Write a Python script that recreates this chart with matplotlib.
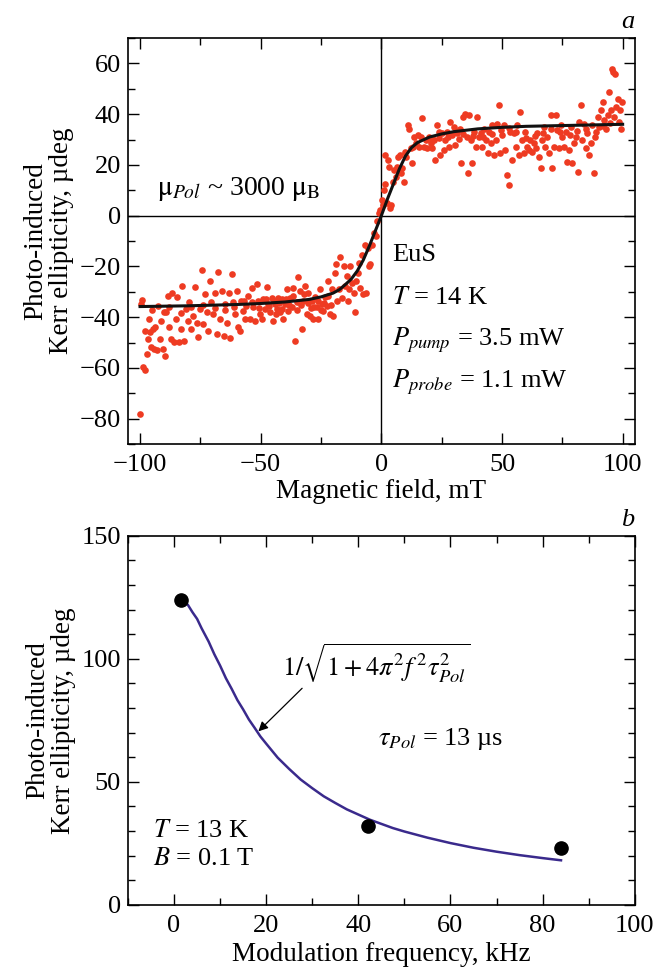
import numpy as np
import matplotlib
matplotlib.use("Agg")
import matplotlib.pyplot as plt
from matplotlib.ticker import MultipleLocator

plt.rcParams['font.family'] = ['Liberation Serif', 'DejaVu Serif']
plt.rcParams['mathtext.fontset'] = 'stix'
plt.rcParams['axes.unicode_minus'] = True

# ---- panel a: Kerr ellipticity vs magnetic field
field_pts = [
    -100, -99.8, -99, -98.8, -98, -98, -97, -96.5, -96.4, -95.7, -95.3, -94.8, -94.1, -93.6,
    -92.9, -92.5, -91.7, -91.3, -90.5, -90.1, -89.6, -89.3, -88.4, -87.9, -87.2, -86.7, -86.1,
    -85.3, -84.6, -83.9, -83.2, -82.5, -81.8, -81, -80.2, -79.7, -78.7, -78, -77.3, -76.6,
    -75.9, -75.2, -74.5, -73.8, -73.1, -72.4, -71.7, -71, -70.4, -69.6, -68.9, -68.2, -67.5,
    -66.8, -66.1, -65.4, -64.7, -64, -63.3, -62.8, -62.1, -61.4, -60.7, -60, -59.4, -58.7,
    -58, -57.3, -56.6, -55.9, -55.2, -54.5, -53.8, -53.1, -52.4, -51.7, -51, -50.3, -49.6,
    -48.9, -48.2, -47.5, -46.8, -46.1, -45.4, -44.8, -44.1, -43.4, -42.7, -42, -41.3, -40.6,
    -39.9, -39.3, -38.6, -37.9, -37.2, -36.5, -35.8, -35.1, -34.4, -33.7, -33, -32.4, -31.7,
    -31, -30.3, -29.6, -28.9, -28.2, -27.5, -26.8, -26.1, -25.4, -24.7, -24.1, -23.4, -22.7,
    -22, -21.3, -20.6, -19.9, -19.4, -18.9, -18.3, -17.7, -17, -16.3, -15.6, -14.9, -14.4,
    -13.9, -13.3, -12.8, -12.1, -11.4, -10.9, -10.4, -9.7, -9.2, -8.7, -8, -7.5, -6.9, -6.2,
    -5.7, -5.2, -4.5, -3.8, -2.9, -2.4, -1.7, -1, -0.5, 0.2, 0.5, 1, 1.4, 1.7, 2.2, 2.8, 3.3,
    3.6, 4.2, 4.7, 5.2, 5.9, 6.4, 6.9, 7.6, 8.1, 8.7, 9.4, 9.9, 10.4, 10.9, 11.5, 12.1, 12.6,
    13.2, 13.7, 14.4, 15.1, 15.8, 16.4, 17, 17.7, 18.3, 19, 19.7, 20.4, 21.1, 21.8, 22.3, 23,
    23.7, 24.4, 25.1, 25.8, 26.5, 27.2, 27.9, 28.6, 29.2, 29.9, 30.6, 31.3, 32, 32.7, 33.2,
    33.9, 34.6, 35.3, 35.8, 36.5, 37.2, 37.7, 38.4, 39.1, 39.8, 40.5, 41.2, 41.9, 42.6, 43.3,
    44, 44.6, 45.3, 46, 46.7, 47.4, 48.1, 48.6, 49.3, 50, 50.7, 51.4, 52.1, 52.8, 53.5, 54.2,
    54.9, 55.6, 56.2, 56.9, 57.6, 58.3, 59, 59.7, 60.4, 61.1, 61.8, 62.5, 63.2, 63.9, 64.6,
    65.3, 66, 66.6, 67.3, 68, 68.7, 69.4, 70.1, 70.8, 71.5, 72.2, 72.9, 73.6, 74.3, 75, 75.7,
    76.4, 77.1, 77.8, 78.5, 79.2, 79.9, 80.6, 81.3, 82, 82.6, 83.3, 84, 84.7, 85.4, 86.1,
    86.8, 87.5, 88.2, 88.9, 89.6, 90.3, 91, 91.7, 92.4, 93.1, 93.8, 94.5, 95.2, 95.5, 96,
    96.5, 96.9, 97.4, 97.9, 98.4, 98.8, 99.3, 99.8,
    -47.9, -46.4, -44.5, -43.8, -42.3, -41, -39.6, -38.2, -36.8, -34.8, -33.3, -32, -30.6,
    -29.2, -27.8, -26.4, -25, -23.7, -22.3, -21, -95.1, -88, -83, -79, -74, -69, -65, -61,
    -57, -53.4, -50.9,
    20.9, 24, 27.5, 31, 34, 38, 42, 45.8, 49.7, 53, 56, 60, 63.5, 67, 70.5, 74, 78, 81, 85,
    88.5, 92, 94.9,
]
kerr_pts = [
    -78, -34.9, -33.3, -59.7, -60.6, -45.3, -54.4, -48.6, -40.7, -46, -51.8, -44.6, -52.5, -44,
    -53.1, -35.5, -48.6, -41.4, -52.7, -38.1, -55.1, -37.9, -31.6, -44, -48.6, -30.3, -49.9,
    -40.7, -32.2, -49.9, -44.6, -27.7, -49.3, -36.8, -41.4, -34.2, -44.6, -39.4, -27.9, -42.1,
    -47.9, -36.8, -21.5, -42.7, -30.8, -38.1, -45.3, -25.7, -34.2, -38.8, -30.3, -46.6, -22.2,
    -40.7, -29.6, -47.3, -34.9, -42.1, -30.3, -48.3, -23.1, -34.2, -38.8, -29.6, -44, -45.3,
    -33.6, -37.5, -40.7, -35.5, -31.6, -40.7, -28.3, -36.1, -41.4, -27, -33.6, -38.8, -40.7,
    -32.9, -36.8, -27.9, -34.9, -38.1, -32.3, -41.4, -34.9, -36.8, -32.3, -38.1, -32.9, -40.7,
    -34.9, -29, -37.5, -32.3, -36.1, -28.3, -49.2, -34.2, -24, -29.6, -44.6, -33.6, -27.7,
    -38.8, -30.3, -39.4, -33.6, -40.7, -32.2, -36.1, -40.7, -29, -34.9, -37.5, -32.2, -35.5,
    -25.7, -38.8, -29, -39.4, -22.5, -19.2, -33.6, -29, -16.3, -32.3, -19.8, -27.7, -23.8,
    -33.6, -29, -19.8, -26.4, -30.3, -38.1, -25.7, -22.5, -18.5, -28.3, -15.3, -30.9, -11.4, -30.3,
    -12.7, -19.8, -19.2, -11.4, -6.8, -8.1, -2.2, 1, 2.3, 6.3, 4.3, 10.2, 23.9, 12.4, 5, 21.9, 19.3,
    3, 4.3, 13.4, 18, 15.4, 19.3, 23.2, 23.9, 16.7, 18.7, 13.4, 25.2, 23.2, 35.6, 34.3, 26.5, 20.6,
    27.2, 31.1, 28.5, 31.7, 27.2, 31.1, 38.3, 27.2, 29.8, 26.5, 31.1, 28.5, 26.5, 29.8, 21.9, 35.6,
    33, 23.9, 32.4, 25.8, 29.8, 33, 27.2, 36.9, 31.7, 35, 27.8, 32.4, 30.4, 34.3, 20.6,
    38.9, 40.2, 31.1, 16.7, 39.6, 29.8, 20.6, 33, 27.2, 38.9, 31.1, 32.4, 27.2, 34.3, 29.8,
    24.5, 33, 28.5, 35.6, 23.9, 29.8, 36.3, 43.7, 24.5, 31.7, 35.6, 25.8, 16.1, 12.1, 33, 21.9,
    32.4, 27.2, 35.6, 23.9, 40.9, 29.8, 24.5, 33, 27.2, 25.8, 29.8, 25.2, 28.5, 26.5, 32.4,
    23.2, 18.7, 29.8, 35, 27.2, 31.1, 24.5, 39.6, 18.7, 27.2, 39.6, 33.7, 26.5, 35.6, 31.1, 27.2,
    33, 21.3, 25.8, 35, 20.6, 28.5, 31.1, 17.4, 36.9, 43.5, 29.8, 36.3, 26.5, 32.4, 23.9,
    28.5, 35.6, 17, 33, 38.9, 35, 41.5, 44.8, 37.6, 34.3, 39.6, 48.7, 41.5, 57.8, 56.5,
    38.9, 55.9, 42.8, 46.1, 36.9, 41.5, 34.3, 44.8,
    -33, -35.5, -33.8, -38.9, -34.5, -36.7, -33, -35.3, -31.5, -37, -35.2, -31, -34.4,
    -36.3, -35.8, -33.5, -37, -34.5, -31.5, -35, -37, -36, -38.5, -36, -35, -36.5, -37, -36,
    -33.5, -34, -36.2,
    30.6, 30.5, 31, 33.5, 32, 31.5, 30.8, 32, 33.8, 34.5, 33, 30.5, 31.5, 32.5, 34, 33, 31.8, 33.5, 34,
    31, 35.5, 36.5,
]

fit_field = [-100, -80, -60, -50, -40, -30, -25, -20, -17.5, -15, -12.5, -10, -7.5, -5, -2.5, 0,
             2.5, 5, 7.5, 10, 12.5, 15, 20, 25, 30, 40, 50, 60, 70, 80, 90, 100]
fit_kerr = [-35.8, -35.5, -35, -34.6, -34, -33, -32, -30.5, -29.2, -27.2, -25, -21.8, -17.5, -12,
            -6, 0, 6.5, 12.5, 18.5, 23.5, 26.8, 28.8, 31, 32.2, 33.1, 34.2, 34.8, 35.2, 35.4,
            35.6, 35.8, 36]

# ---- panel b: Kerr ellipticity vs modulation frequency
freq_pts = [1.5, 42, 84]
kerr_b_pts = [124, 32, 23]

fit_freq = [2, 3, 4, 5, 6, 7.5, 8.75, 10, 11.25, 12.5, 13.75, 15, 16.25, 17.5, 18.75, 20, 22.5,
            25, 27.5, 30, 32.5, 35, 37.5, 40, 42.5, 45, 47.5, 50, 55, 60, 65, 70, 75, 80, 84]
fit_kerr_b = [123.5, 121.9, 118.9, 116.2, 112.3, 107, 101.8, 97.2, 92.1, 87.8, 83.2, 79.4, 75.3,
              71.9, 68.4, 65.5, 59.8, 55.2, 50.9, 47.4, 44.1, 41.4, 38.8, 36.7, 34.6, 32.9, 31.2,
              29.8, 27.3, 25.1, 23.2, 21.6, 20.2, 19, 18.1]

TICK_FS = 19
LABEL_FS = 19.5
TEXT_FS = 19

fig = plt.figure(figsize=(6.53, 9.74), dpi=100)
ax1 = fig.add_axes([0.196, 0.544, 0.776, 0.417])
ax2 = fig.add_axes([0.196, 0.071, 0.776, 0.379])


def style_axes(ax):
    for sp in ax.spines.values():
        sp.set_linewidth(1.2)
    ax.tick_params(which='both', direction='in', top=True, right=True,
                   labelsize=TICK_FS, width=1.0)
    ax.tick_params(axis='x', which='both', pad=7)
    ax.tick_params(axis='y', which='both', pad=5)
    ax.tick_params(which='major', length=8)
    ax.tick_params(which='minor', length=5)


# panel a
ax1.axhline(0, color='black', lw=1.0, zorder=1)
ax1.axvline(0, color='black', lw=1.0, zorder=1)
ax1.plot(field_pts, kerr_pts, 'o', color='#ee3b22', ms=4.8, mec='none', zorder=2)
ax1.plot(fit_field, fit_kerr, '-', color='#111111', lw=2.2, zorder=3)
ax1.set_xlim(-105, 105)
ax1.set_ylim(-90, 70)
ax1.xaxis.set_major_locator(MultipleLocator(50))
ax1.xaxis.set_minor_locator(MultipleLocator(25))
ax1.yaxis.set_major_locator(MultipleLocator(20))
ax1.yaxis.set_minor_locator(MultipleLocator(10))
style_axes(ax1)
ax1.set_xlabel('Magnetic field, mT', fontsize=LABEL_FS, labelpad=2)
ax1.set_ylabel('Photo-induced\nKerr ellipticity, µdeg', fontsize=LABEL_FS, linespacing=1.05, labelpad=4)
ax1.text(1.0, 1.012, 'a', transform=ax1.transAxes, ha='right', va='bottom',
         fontsize=TEXT_FS, style='italic')
ax1.text(-93, 10.5, r'$\mathrm{μ}_{Pol}$' + ' ~ 3000 ' + r'$\mathrm{μ}_\mathrm{B}$',
         fontsize=TEXT_FS + 1, va='center', ha='left')
ax1.text(4.5, -15.5, 'EuS', fontsize=TEXT_FS, va='center')
ax1.text(4.5, -32.5, r'$T$ = 14 K', fontsize=TEXT_FS, va='center')
ax1.text(4.5, -49, r'$P_{pump}$ = 3.5 mW', fontsize=TEXT_FS, va='center')
ax1.text(4.5, -65.5, r'$P_{probe}$ = 1.1 mW', fontsize=TEXT_FS, va='center')

# panel b
ax2.plot(fit_freq, fit_kerr_b, '-', color='#3a2a8c', lw=1.8, zorder=2)
ax2.plot(freq_pts, kerr_b_pts, 'o', color='black', ms=9.5, zorder=3)
ax2.set_xlim(-10, 100)
ax2.set_ylim(0, 150)
ax2.xaxis.set_major_locator(MultipleLocator(20))
ax2.xaxis.set_minor_locator(MultipleLocator(10))
ax2.yaxis.set_major_locator(MultipleLocator(50))
ax2.yaxis.set_minor_locator(MultipleLocator(10))
style_axes(ax2)
ax2.set_xlabel('Modulation frequency, kHz', fontsize=LABEL_FS, labelpad=4)
ax2.set_ylabel('Photo-induced\nKerr ellipticity, µdeg', fontsize=LABEL_FS, linespacing=1.05, labelpad=4)
ax2.text(1.0, 1.012, 'b', transform=ax2.transAxes, ha='right', va='bottom',
         fontsize=TEXT_FS, style='italic')
ax2.text(23.5, 98, r'$1/\sqrt{1+4\pi^2 f^{\,2}\tau_{Pol}^2}$', fontsize=TEXT_FS, va='center')
ax2.annotate('', xy=(18.3, 70.5), xytext=(27.8, 88),
             arrowprops=dict(arrowstyle='-|>', color='black', lw=0.9,
                             mutation_scale=14, shrinkA=0, shrinkB=0))
ax2.text(44.3, 67.5, r'$\tau_{Pol}$ = 13 µs', fontsize=TEXT_FS, va='center')
ax2.text(-4.5, 30, r'$T$ = 13 K', fontsize=TEXT_FS, va='center')
ax2.text(-4.5, 18.5, r'$B$ = 0.1 T', fontsize=TEXT_FS, va='center')

fig.savefig('out.png', dpi=100)
